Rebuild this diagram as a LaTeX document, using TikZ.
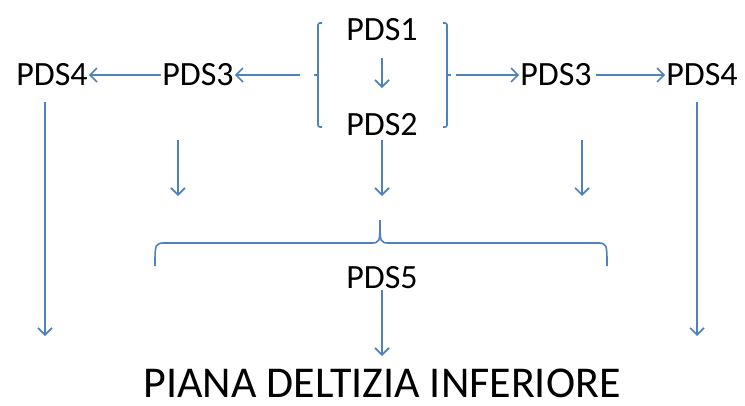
\documentclass[tikz,border=0pt]{standalone}
\usepackage{fontspec}
\setmainfont{Carlito}
\usetikzlibrary{arrows.meta, positioning, calc}
\definecolor{linkblue}{HTML}{4F81BD}

\begin{document}
\begin{tikzpicture}[x=1pt, y=-1pt,
  lbl/.style={inner sep=1pt, font=\fontsize{34}{36}\selectfont},
  arr/.style={-{Straight Barb[length=7pt, width=14pt]}, linkblue, line width=1.6pt},
  brk/.style={linkblue, line width=1.6pt, rounded corners=2pt}]
  \useasboundingbox (0,0) rectangle (745,405);

  % central block
  \node[lbl] (p1) at (382,30) {PDS1};
  \node[lbl] (p2) at (382,125) {PDS2};
  \draw[arr] (382,58) -- (382,88);

  % brackets round PDS1 and PDS2
  \draw[brk] (322,23) -- (318,23) -- (318,127) -- (322,127);
  \draw[brk] (318,75) -- (314,75);
  \draw[brk] (443,23) -- (447,23) -- (447,127) -- (443,127);
  \draw[brk] (447,75) -- (451,75);

  % left branch
  \node[lbl] (l3) at (198,75) {PDS3};
  \node[lbl] (l4) at (52,75) {PDS4};
  \coordinate (bl) at (300,75);
  \draw[arr] (bl) -- (l3.east);
  \draw[arr] (l3.west) -- (l4.east);

  % right branch
  \node[lbl] (r3) at (556,75) {PDS3};
  \node[lbl] (r4) at (702,75) {PDS4};
  \coordinate (br) at (456,75);
  \draw[arr] (br) -- (r3.west);
  \draw[arr] (r3.east) ++(3,0) -- (r4.west);

  % short arrows down
  \draw[arr] (178,140) -- (178,196);
  \draw[arr] (382,140) -- (382,196);
  \draw[arr] (582,140) -- (582,196);

  % brace
  \draw[brk, rounded corners=0pt]
  (155,266) .. controls (155,243) .. (166,243) -- (370,243)
  .. controls (380,243) .. (380,220)
  .. controls (380,243) .. (390,243) -- (596,243)
  .. controls (607,243) .. (607,266);

  % bottom
  \node[lbl] (p5) at (382,278) {PDS5};
  \node[inner sep=0pt, font=\fontsize{44}{48}\selectfont] (pi) at (382,383) {PIANA DELTIZIA INFERIORE};
  \draw[arr] (p5.south) -- (382,356);
  \coordinate (el) at (45,336);
  \coordinate (er) at (697,336);
  \draw[arr] (45,102) -- (el);
  \draw[arr] (697,102) -- (er);
\end{tikzpicture}
\end{document}
